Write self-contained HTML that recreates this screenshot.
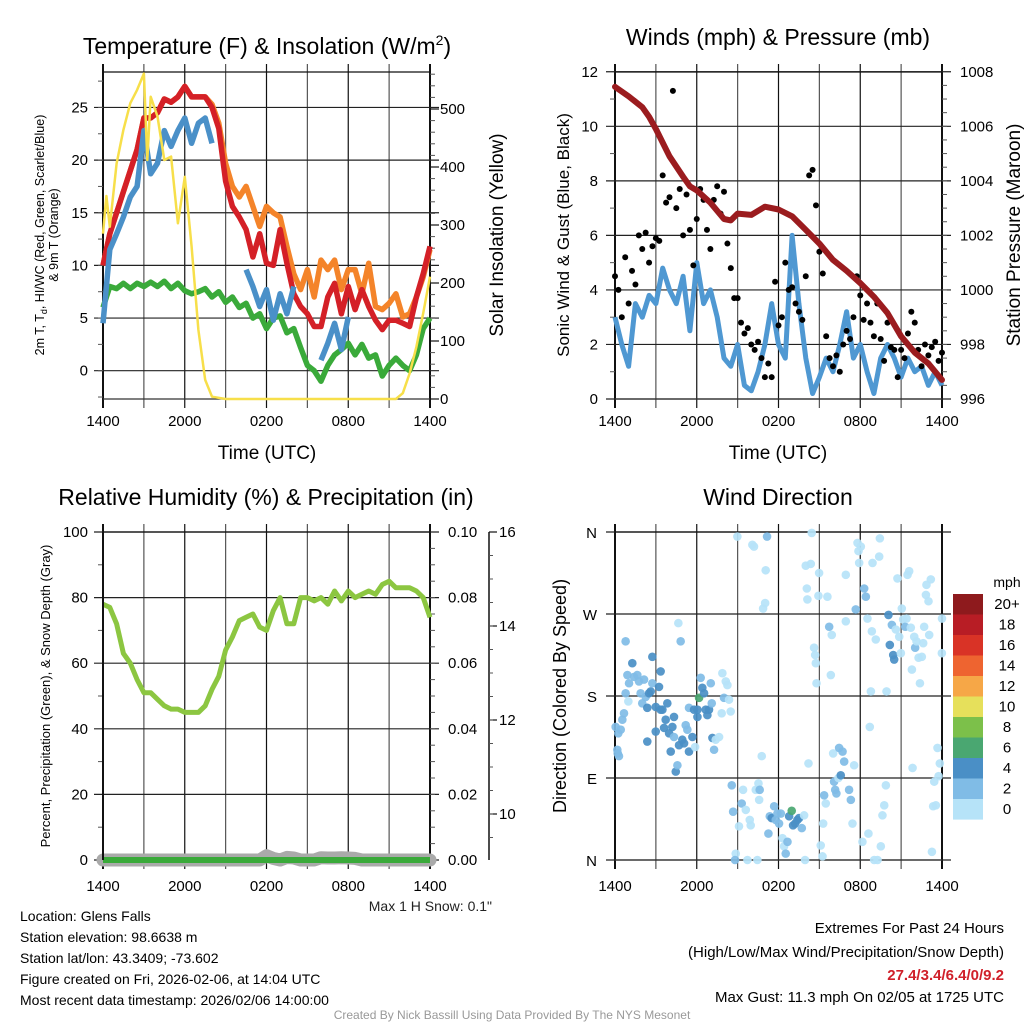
<!DOCTYPE html>
<html><head><meta charset="utf-8"><style>
html,body{margin:0;padding:0;background:#fff;}
svg{display:block;font-family:"Liberation Sans",Arial,sans-serif;}
</style></head><body>
<svg id="chart" width="1024" height="1024" viewBox="0 0 1024 1024" xmlns="http://www.w3.org/2000/svg">
<rect width="1024" height="1024" fill="#fff"/>
<g id="p1"></g>
<g id="p2"></g>
<g id="p3"></g>
<g id="p4"></g>
<text x="267" y="54" font-size="23" text-anchor="middle">Temperature (F) &amp; Insolation (W/m<tspan dy="-9" font-size="14">2</tspan><tspan dy="9">)</tspan></text>
<text x="778" y="45" font-size="23" text-anchor="middle">Winds (mph) &amp; Pressure (mb)</text>
<text x="266" y="505" font-size="23" text-anchor="middle">Relative Humidity (%) &amp; Precipitation (in)</text>
<text x="778" y="505" font-size="23" text-anchor="middle">Wind Direction</text>
<text x="267" y="459" font-size="19" text-anchor="middle">Time (UTC)</text>
<text x="778" y="459" font-size="19" text-anchor="middle">Time (UTC)</text>
<text transform="translate(44,235) rotate(-90)" font-size="12.5" text-anchor="middle">2m T, T<tspan dy="3" font-size="9">d</tspan><tspan dy="-3">, HI/WC (Red, Green, Scarlet/Blue)</tspan></text>
<text transform="translate(58,235) rotate(-90)" font-size="12.5" text-anchor="middle">&amp; 9m T (Orange)</text>
<text transform="translate(503,235) rotate(-90)" font-size="19" text-anchor="middle">Solar Insolation (Yellow)</text>
<text transform="translate(569,235) rotate(-90)" font-size="17" text-anchor="middle">Sonic Wind &amp; Gust (Blue, Black)</text>
<text transform="translate(1020,235) rotate(-90)" font-size="19" text-anchor="middle">Station Pressure (Maroon)</text>
<text transform="translate(50,696) rotate(-90)" font-size="13" text-anchor="middle">Percent, Precipitation (Green), &amp; Snow Depth (Gray)</text>
<text transform="translate(566,696) rotate(-90)" font-size="18" text-anchor="middle">Direction (Colored By Speed)</text>
<text x="492" y="911" font-size="14" text-anchor="end" fill="#222">Max 1 H Snow: 0.1"</text>
<g font-size="14" fill="#000">
<text x="20" y="921">Location: Glens Falls</text>
<text x="20" y="942">Station elevation: 98.6638 m</text>
<text x="20" y="963">Station lat/lon: 43.3409; -73.602</text>
<text x="20" y="984">Figure created on Fri, 2026-02-06, at 14:04 UTC</text>
<text x="20" y="1005">Most recent data timestamp: 2026/02/06 14:00:00</text>
</g>
<g font-size="15" text-anchor="end">
<text x="1004" y="933">Extremes For Past 24 Hours</text>
<text x="1004" y="957">(High/Low/Max Wind/Precipitation/Snow Depth)</text>
<text x="1004" y="980" fill="#d0202a" font-weight="bold">27.4/3.4/6.4/0/9.2</text>
<text x="1004" y="1002">Max Gust: 11.3 mph On 02/05 at 1725 UTC</text>
</g>
<text x="512" y="1019" font-size="12" fill="#999" text-anchor="middle">Created By Nick Bassill Using Data Provided By The NYS Mesonet</text>
</svg>
<script>
// ---------- data ----------
var timeTickLabels = ["1400","2000","0200","0800","1400"];
var halfHours = []; for (var k = 0; k <= 48; k++) halfHours.push(k/2);
var temp2m = [10,13,15,17,19,21,24,24,24.5,25.8,25.5,26,27,26,26,26,25,23,18,15.6,14.6,13.4,10.8,13,10.2,10,13.4,10.2,7.3,6.1,5.4,4.2,4.2,7,8.3,5.4,8,5.8,7.7,6.1,4.8,3.9,4.8,4.8,4.5,4.2,7,9.2,11.8];
var temp9m = [10,13,15,17,19,21,24,24,24.5,25.8,25.5,26,27,26,26,26,25.3,23.5,19.7,17.5,16.5,17.5,15.6,13.7,15.6,15,14.6,11.8,9.2,7.7,9.6,7,10.5,9.6,10.5,7.7,9.6,9.6,7.3,10.2,6.1,5.8,6.4,7.3,5.1,5.4,7,8.9,11.5];
var heatIdx = [4.5,11.5,13,14.6,16.5,17.5,22.8,18.7,19.7,22.8,21.3,22.8,24,21.6,23.5,24,21.6,null,null,null,null,9.6,8,6.1,7.7,4.8,7.3,5.4,8,null,null,null,1,2.6,4.5,2,5.1,null,null,null,null,-1,null,null,null,null,null,null,null];
var dewPt = [6,8,7.8,8.3,7.8,8.3,8,8.4,8,8.5,7.8,8.3,7.6,7.3,7.5,7.8,7,7.5,6.5,7,6,6.4,5,5.4,4,5,5.2,3.6,4,2.2,0.5,0,-1,0.5,1.5,2,2.6,1.5,2.5,1.2,1.5,-0.5,0.5,1.2,0.5,0,1.5,4,5];
var solarTimes = [0,0.25,0.5,1,1.5,2,2.5,3,3.25,3.5,4,4.5,5,5.5,6,6.5,7,7.5,8,9,21.5,22,22.5,23,23.5,24];
var solar = [285,350,297,406,464,510,533,561,412,521,487,412,418,303,383,263,119,33,4,0,0,10,44,90,148,211];
var windSpd = [3,2,1.2,3.5,3,3.8,3.5,4.8,4,3.5,4.5,2.5,5,3.5,4,3,1.5,1.2,2,0.5,0.3,1,2,3.5,2,1.5,6,3.5,1.5,0.2,0.8,1.5,1,2,3.2,1.5,2,1,0.2,1.5,2,1.5,0.8,1.5,1,1.2,0.5,1,0.5];
var gustTimes = []; for (var g = 0; g <= 96; g++) gustTimes.push(g/4);
var gustVals = [4.5,4,3,5.2,3.5,4.7,4.2,6,5.5,6.1,5,5.6,5.9,5.8,8.2,7.2,7.4,11.3,7,7.7,6,7.5,6.2,4.9,6.6,7.7,7.3,6.2,5.5,7.3,7.8,6.8,7.6,5.7,4.8,3.7,3.7,2.8,2.4,2.6,2,1.8,2.1,1.5,0.8,1.3,0.8,4.3,2.7,3,5,4,4.1,3.5,3.2,2.9,4.5,8.2,8.4,7.1,5.4,4.6,2.3,1.5,1.2,1.6,1,2,2.5,2.2,3,4.5,3.8,2.9,3.5,2.8,2.3,3.5,2.2,1.4,2.8,1.9,1.8,0.8,1.8,1.5,2.4,3.2,2.8,1.8,1.2,2,1.6,1.9,2.1,1.4,1.7];
var pressTimes = [0,1,2,2.5,3,4,5,5.5,6,7,8,8.5,9,10,11,12,13,14,15,16,17,18,19,20,21,22,23,24];
var pressVals = [1007.45,1007.1,1006.7,1006.35,1005.9,1004.9,1004.15,1003.8,1003.65,1003.2,1002.6,1002.55,1002.8,1002.75,1003.05,1002.95,1002.7,1002.2,1001.7,1001.1,1000.7,1000.25,999.75,999.15,998.3,997.7,997.3,996.7];
var rhVals = [78,77,72,63,60,55,51,51,49,47,46,46,45,45,45,47,52,56,64,68,73,74,75,71,70,76,80,72,72,80,80,79,80,78,82,79,82,80,81,82,81,84,85,83,83,83,82,80,74];
var snowBumps = [0,0,0,0,0,0,0,0,0,0,0,0,0,0,0,0,0,0,0,0,0,0,0,0,1.3,0.5,0,0.8,0.6,0,0,0,0.7,0.6,0.6,0.7,0.6,0.5,0,0,0,0,0,0,0,0,0,0,0];
var precipVals = []; for (var q = 0; q <= 48; q++) precipVals.push(0);
var dirTimes = [0.05,0.24,0.42,0.17,0.29,0.2,0.54,0.66,0.78,0.91,1.03,0.78,0.98,1.27,1.4,1.64,1.76,1.88,2.0,2.13,2.25,2.37,2.37,2.5,2.62,2.74,2.74,2.99,2.99,3.23,3.35,3.35,3.48,3.6,3.72,3.84,3.97,4.09,4.21,4.33,4.33,4.46,4.58,4.7,4.82,4.65,4.94,5.07,5.19,5.31,5.43,5.43,5.68,5.8,5.88,6.05,6.05,6.17,6.29,6.41,6.54,6.66,6.78,6.9,7.03,7.1,7.15,7.27,7.39,7.64,7.83,7.88,8.0,8.13,8.25,8.37,8.49,
8.57,8.67,8.86,8.81,8.98,9.1,9.3,9.4,9.6,9.72,9.89,9.96,10.08,10.2,10.33,10.45,10.53,10.58,10.62,10.77,10.87,11.02,11.06,11.16,11.26,11.36,11.5,11.68,11.8,11.92,12.04,12.17,12.29,12.41,12.53,12.66,12.78,12.97,13.07,13.22,13.39,13.51,13.71,13.88,13.95,14.0,14.08,14.12,14.2,14.37,14.44,14.61,14.69,14.74,14.79,14.93,14.98,15.1,15.23,15.28,15.35,15.47,15.59,15.72,15.84,15.91,16.01,16.08,16.16,16.25,16.4,16.45,16.57,16.7,16.82,16.94,16.94,17.18,17.31,17.43,17.55,17.67,17.8,17.87,17.92,18.04,18.16,18.29,18.41,18.53,18.6,18.7,18.78,18.85,18.9,19.02,19.14,19.27,19.39,19.44,19.51,19.63,19.76,19.88,19.93,20.07,20.17,20.32,20.42,20.49,20.61,20.73,20.86,20.98,21.05,21.15,21.3,21.4,21.47,21.59,21.71,21.79,21.84,21.96,22.03,22.13,22.28,22.38,22.52,22.62,22.69,22.82,22.86,23.01,23.06,23.18,23.26,23.35,23.43,23.55,23.67,23.75,23.84,23.99,24.0];
var dirDegs = [146,139,143,121,114,117,154,161,240,203,194,183,174,216,201,203,196,183,172,198,179,167,130,183,185,223,194,168,141,190,207,165,165,145,154,172,139,119,146,157,135,97,104,126,240,260,132,128,148,143,119,167,135,165,124,157,165,178,200,189,183,165,159,165,194,172,134,121,132,135,161,205,178,196,192,176,163,
82,53,7,0,355,37,62,77,55,0,44,38,346,344,77,0,84,66,77,114,276,282,318,355,29,48,46,59,44,51,40,51,24,15,7,20,48,54,38,40,44,46,35,49,0,323,298,286,106,325,359,233,225,216,194,290,315,16,4,40,71,62,289,256,203,247,117,86,77,73,90,123,93,119,108,313,262,77,66,40,104,275,348,339,326,344,20,298,289,265,29,146,185,251,326,0,242,0,333,353,15,49,60,82,185,269,236,258,225,220,253,309,245,227,276,264,256,265,313,317,255,209,101,245,233,240,222,194,223,238,256,291,302,284,247,308,9,59,86,60,123,92,106,227,265];
var dirSpeeds = [3,3,3,3,3,3,3,3,3,3,3,3,1,5,3,3,3,3,3,3,3,5,5,5,5,5,3,5,5,5,5,5,5,5,5,5,5,5,5,5,3,5,3,5,3,1,5,5,3,3,5,3,5,5,1,5,5,7,3,5,5,5,5,5,3,3,5,3,1,1,1,1,3,1,1,1,1,
3,3,1,3,1,1,3,1,1,1,1,1,1,1,1,1,1,1,3,1,1,1,1,3,3,3,5,3,3,3,3,3,1,1,3,3,5,7,5,5,5,5,3,1,1,1,1,1,1,1,1,1,1,1,1,1,1,1,1,1,3,1,1,3,1,1,1,3,3,3,1,3,5,3,3,1,1,3,3,1,1,3,1,1,1,1,1,3,3,1,1,1,1,1,1,1,1,1,1,1,1,1,1,1,1,5,5,3,5,5,1,1,1,1,1,1,3,1,1,1,1,1,1,1,3,1,1,1,1,1,1,1,1,1,1,1,1,1,1,1,1,1,1,1,1];
var cbLabels = ["20+","18","16","14","12","10","8","6","4","2","0"];
var cbColors = ["#8e1a1d","#b81d25","#d93326","#ee6430","#f6a747","#e6e05b","#7cc04a","#4aa771","#4a8fc6","#80bce6","#b6e3f8"];

// ---------- helpers ----------
var NS = "http://www.w3.org/2000/svg";
function el(parent, tag, attrs, text) {
  var e = document.createElementNS(NS, tag);
  for (var a in attrs) e.setAttribute(a, attrs[a]);
  if (text !== undefined) e.textContent = text;
  parent.appendChild(e);
  return e;
}
function linePath(ts, vs, fx, fy) {
  var d = "", pen = false;
  for (var i = 0; i < ts.length; i++) {
    if (vs[i] === null || vs[i] === undefined) { pen = false; continue; }
    d += (pen ? "L" : "M") + fx(ts[i]).toFixed(1) + "," + fy(vs[i]).toFixed(1);
    pen = true;
  }
  return d;
}
function frame(g, L, R, T, B, hTicks, fy) {
  for (var h = 0; h <= 24; h += 3) {
    var x = L + h * (R - L) / 24;
    var ln = el(g, "line", {x1:x, x2:x, y1:T-8, y2:B+9, stroke: (h%6===0?"#111":"#555"), "stroke-width": (h===0||h===24)?2:1.2});
    
    
  }
  hTicks.forEach(function (v) {
    var y = fy(v);
    var ln = el(g, "line", {x1:L-9, x2:R+9, y1:y, y2:y, stroke:"#222", "stroke-width":1.2});
    
    
  });
  el(g, "line", {x1:L, x2:R, y1:T, y2:T, stroke:"#111", "stroke-width":1.3});
  el(g, "line", {x1:L, x2:R, y1:B, y2:B, stroke:"#333", "stroke-width":1.3});
}
function xLabels(g, L, R, y) {
  timeTickLabels.forEach(function (s, i) {
    var t = el(g, "text", {x: L + i*(R-L)/4, y: y, "font-size":15, "text-anchor":"middle"}, s);
    
    
  });
}
function yLabels(g, vals, fy, x, anchor, fmt) {
  vals.forEach(function (v) {
    var t = el(g, "text", {x: x, y: fy(v)+5, "font-size":15, "text-anchor":anchor}, fmt ? fmt(v) : String(v));
    
    
  });
}
function minorTicks(g, from, to, step, fy, x, dir, len) {
  for (var v = from; v <= to + 1e-9; v += step) {
    var y = fy(v);
    el(g, "line", {x1:x, x2:x+dir*len, y1:y, y2:y, stroke:"#555", "stroke-width":1});
  }
}

// ---------- panel 1 ----------
(function () {
  var g = document.getElementById("p1");
  var L = 103, R = 430, T = 72, B = 399;
  var fx = function (t) { return L + t*(R-L)/24; };
  var fy = function (v) { return 370.7 - v*10.53; };
  var fs = function (w) { return 399 - w*0.58; };
  frame(g, L, R, T, B, [0,5,10,15,20,25], fy);
  minorTicks(g, -2.5, 27.5, 2.5, fy, L, -1, 5);
  minorTicks(g, 0, 560, 20, fs, R, 1, 5);
  [0,100,200,300,400,500].forEach(function (w) { el(g, "line", {x1:R, x2:R+9, y1:fs(w), y2:fs(w), stroke:"#111", "stroke-width":1.2}); });
  yLabels(g, [0,5,10,15,20,25], fy, 88, "end");
  yLabels(g, [0,100,200,300,400,500], fs, 440, "start");
  xLabels(g, L, R, 426);
  var s;
  s = el(g, "path", {d: linePath(halfHours, dewPt, fx, fy), fill:"none", stroke:"#3aaa3a", "stroke-width":5.5, "stroke-linejoin":"round"});
   
  s = el(g, "path", {d: linePath(halfHours, temp9m, fx, fy), fill:"none", stroke:"#f4842a", "stroke-width":5.5, "stroke-linejoin":"round"});
   
  s = el(g, "path", {d: linePath(halfHours, temp2m, fx, fy), fill:"none", stroke:"#d42027", "stroke-width":5.5, "stroke-linejoin":"round"});
   
  s = el(g, "path", {d: linePath(halfHours, heatIdx, fx, fy), fill:"none", stroke:"#4a90c8", "stroke-width":5.5, "stroke-linejoin":"round"});
   
  s = el(g, "path", {d: linePath(solarTimes, solar, fx, fs), fill:"none", stroke:"#f7df4a", "stroke-width":2.5, "stroke-linejoin":"round"});
   
})();

// ---------- panel 2 ----------
(function () {
  var g = document.getElementById("p2");
  var L = 615, R = 942, T = 72, B = 399;
  var fx = function (t) { return L + t*(R-L)/24; };
  var fy = function (v) { return 399 - v*27.27; };
  var fp = function (p) { return 399 - (p-996)*27.27; };
  frame(g, L, R, T, B, [0,2,4,6,8,10,12], fy);
  minorTicks(g, 1, 11, 2, fy, L, -1, 5);
  minorTicks(g, 996.5, 1007.5, 0.5, fp, R, 1, 5);
  yLabels(g, [0,2,4,6,8,10,12], fy, 598, "end");
  yLabels(g, [996,998,1000,1002,1004,1006,1008], fp, 960, "start");
  xLabels(g, L, R, 426);
  var s = el(g, "path", {d: linePath(halfHours, windSpd, fx, fy), fill:"none", stroke:"#4f98d2", "stroke-width":5, "stroke-linejoin":"round"});
   
  for (var i = 0; i < gustTimes.length; i++) {
    var c = el(g, "circle", {cx: fx(gustTimes[i]), cy: fy(gustVals[i]), r: 3, fill:"#000"});
    
    
  }
  s = el(g, "path", {d: linePath(pressTimes, pressVals, fx, fp), fill:"none", stroke:"#9b1c1f", "stroke-width":6, "stroke-linejoin":"round", "stroke-linecap":"round"});
   
})();

// ---------- panel 3 ----------
(function () {
  var g = document.getElementById("p3");
  var L = 103, R = 430, T = 532, B = 860;
  var fx = function (t) { return L + t*(R-L)/24; };
  var fy = function (v) { return 860 - v*3.28; };
  var fr = function (v) { return 860 - v*3280; };
  var fz = function (v) { return 532 + (16 - v)*47; };
  frame(g, L, R, T, B, [0,20,40,60,80,100], fy);
  minorTicks(g, 10, 90, 20, fy, L, -1, 5);
  minorTicks(g, 0.005, 0.095, 0.005, fr, R, 1, 5);
  yLabels(g, [0,20,40,60,80,100], fy, 88, "end");
  yLabels(g, [0,0.02,0.04,0.06,0.08,0.1], fr, 448, "start", function (v) { return v.toFixed(2); });
  var ax = el(g, "line", {x1:489, x2:489, y1:532, y2:860, stroke:"#111", "stroke-width":1.5});
   
  [16,14,12,10].forEach(function (v) { el(g, "line", {x1:489, x2:497, y1:fz(v), y2:fz(v), stroke:"#111", "stroke-width":1.2}); });
  minorTicks(g, 9.5, 15.5, 0.5, fz, 489, 1, 4);
  yLabels(g, [16,14,12,10], fz, 499, "start");
  xLabels(g, L, R, 891);
  var s = el(g, "path", {d: linePath(halfHours, rhVals, fx, fy), fill:"none", stroke:"#8cc641", "stroke-width":5, "stroke-linejoin":"round"});
   
  s = el(g, "path", {d: linePath(halfHours, snowBumps, fx, fy), fill:"none", stroke:"#aaa", "stroke-width":13, "stroke-linejoin":"round", "stroke-linecap":"round"});
   
  s = el(g, "path", {d: linePath(halfHours, precipVals, fx, fr), fill:"none", stroke:"#3aaa3a", "stroke-width":6});
   
  el(g, "line", {x1:L, x2:L, y1:T, y2:B, stroke:"#111", "stroke-width":2});
})();

// ---------- panel 4 ----------
(function () {
  var g = document.getElementById("p4");
  var L = 615, R = 942, T = 532, B = 860;
  var fx = function (t) { return L + t*(R-L)/24; };
  var fy = function (d) { return 860 - d*328/360; };
  frame(g, L, R, T, B, [0,90,180,270,360], fy);
  var names = ["N","E","S","W","N"];
  [0,90,180,270,360].forEach(function (d, i) {
    var t = el(g, "text", {x: 597, y: fy(d)+6, "font-size":15, "text-anchor":"end"}, names[i]);
    
    
  });
  xLabels(g, L, R, 891);
  function colorFor(s) { var idx = Math.min(10, Math.floor(s/2)); return cbColors[10-idx]; }
  for (var i = 0; i < dirTimes.length; i++) {
    var c = el(g, "circle", {cx: fx(dirTimes[i]), cy: fy(dirDegs[i]), r: 4.3, fill: colorFor(dirSpeeds[i]), "fill-opacity":0.92});
    
    
  }
  var cb = el(g, "g", {});
  
  
  var t0 = el(cb, "text", {x:1007, y:587, "font-size":14, "text-anchor":"middle"}, "mph");
   
  cbColors.forEach(function (col, j) {
    var y = 594 + j*20.5;
    var r = el(cb, "rect", {x:953, y:y, width:30, height:20.6, fill:col});
    
    
    var t = el(cb, "text", {x:1007, y:y+15, "font-size":15, "text-anchor":"middle"}, cbLabels[j]);
    
    
  });
})();
</script>
</body></html>
